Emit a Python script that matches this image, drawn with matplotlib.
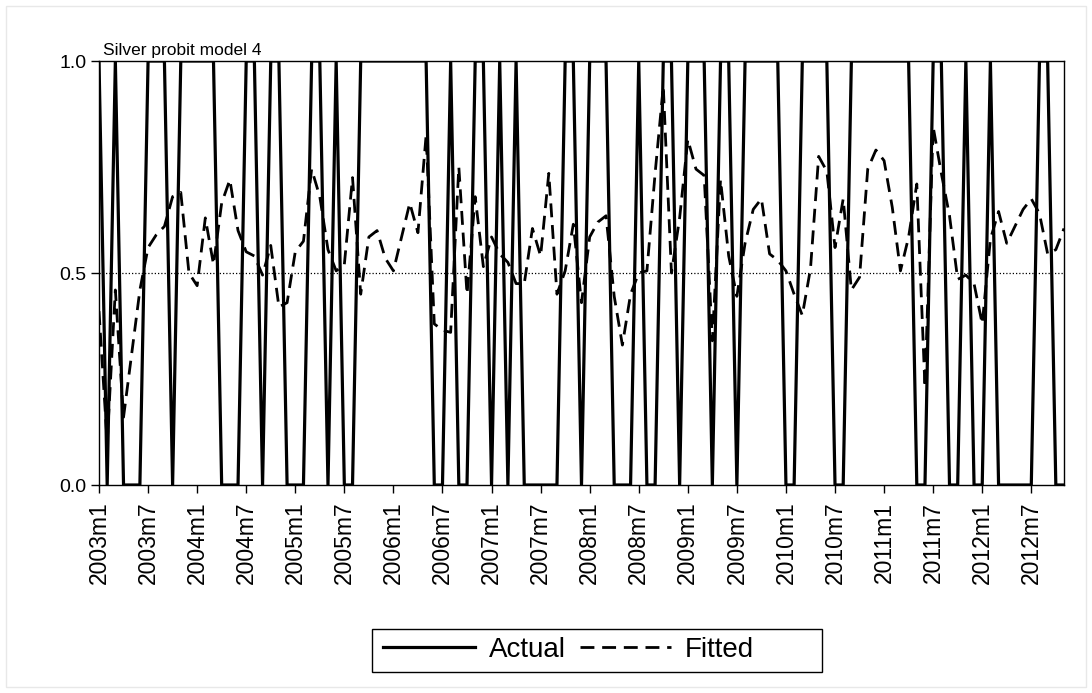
# ===================== Silver probit model 4 - actual vs fitted =====================
# Monthly series 2003m1 - 2012m11, binary actual outcome against probit fitted values
# ====================================================================================

import matplotlib
matplotlib.use("Agg")
import matplotlib.pyplot as plt
from matplotlib.patches import Rectangle

# ===================== Data =====================
START_YEAR = 2003
N_MONTHS = 119  # 2003m1 .. 2012m11

actual = [
    1, 0, 1, 0, 0, 0, 1, 1, 1, 0,
    1, 1, 1, 1, 1, 0, 0, 0, 1, 1,
    0, 1, 1, 0, 0, 0, 1, 1, 0, 1,
    0, 0, 1, 1, 1, 1, 1, 1, 1, 1,
    1, 0, 0, 1, 0, 0, 1, 1, 0, 1,
    0, 1, 0, 0, 0, 0, 0, 1, 1, 0,
    1, 1, 1, 0, 0, 0, 1, 0, 0, 1,
    1, 0, 1, 1, 1, 0, 1, 1, 0, 1,
    1, 1, 1, 1, 0, 0, 1, 1, 1, 1,
    0, 0, 1, 1, 1, 1, 1, 1, 1, 1,
    0, 0, 1, 1, 0, 0, 1, 0, 0, 1,
    0, 0, 0, 0, 0, 1, 1, 0, 0,
]

fitted = [
    0.41, 0.10, 0.46, 0.16, 0.31, 0.46, 0.56, 0.59, 0.61, 0.68,
    0.69, 0.50, 0.47, 0.63, 0.52, 0.665, 0.72, 0.60, 0.55, 0.54,
    0.495, 0.565, 0.42, 0.43, 0.55, 0.575, 0.745, 0.68, 0.555, 0.505,
    0.52, 0.725, 0.45, 0.585, 0.60, 0.535, 0.505, 0.585, 0.665, 0.595,
    0.825, 0.38, 0.365, 0.36, 0.75, 0.45, 0.68, 0.515, 0.585, 0.545,
    0.525, 0.475, 0.475, 0.605, 0.54, 0.735, 0.45, 0.505, 0.615, 0.43,
    0.585, 0.62, 0.635, 0.445, 0.33, 0.45, 0.50, 0.505, 0.735, 0.94,
    0.50, 0.63, 0.815, 0.745, 0.73, 0.34, 0.72, 0.54, 0.445, 0.57,
    0.65, 0.675, 0.545, 0.53, 0.505, 0.45, 0.40, 0.51, 0.775, 0.74,
    0.56, 0.675, 0.46, 0.49, 0.745, 0.79, 0.765, 0.655, 0.505, 0.585,
    0.71, 0.23, 0.845, 0.735, 0.635, 0.485, 0.495, 0.475, 0.38, 0.58,
    0.645, 0.57, 0.61, 0.65, 0.675, 0.64, 0.545, 0.555, 0.605,
]

y_ticks = [0.0, 0.5, 1.0]
y_tick_labels = ["0.0", "0.5", "1.0"]
cutoff = 0.5

months = list(range(N_MONTHS))
x_ticks = months[::6]
x_tick_labels = [f"{START_YEAR + m // 12}m{m % 12 + 1}" for m in x_ticks]

# ===================== Figure =====================
plt.rcParams["font.family"] = ["Liberation Sans", "DejaVu Sans"]

W, H = 1092, 693
fig = plt.figure(figsize=(W / 100, H / 100), dpi=100)
fig.patch.set_facecolor("white")

# faint outer frame
fig.patches.append(Rectangle((6 / W, 6 / H), 1 - 12 / W, 1 - 12 / H,
                             transform=fig.transFigure, fill=False,
                             edgecolor="#e8e8e8", linewidth=1))

ax = fig.add_axes([99 / W, 1 - 485 / H, 965 / W, 424 / H])

ax.plot(months, actual, color="black", linewidth=2.3, label="Actual",
        solid_joinstyle="miter")
ax.plot(months, fitted, color="black", linewidth=2.0,
        linestyle=(0, (5, 2.8)), label="Fitted")
ax.axhline(cutoff, color="black", linewidth=0.9, linestyle=(0, (1, 1.6)))

ax.set_xlim(0, N_MONTHS - 1)
ax.set_ylim(0, 1)

ax.set_xticks(x_ticks)
ax.set_xticklabels(x_tick_labels, rotation=90, fontsize=16.5)
ax.set_yticks(y_ticks)
ax.set_yticklabels(y_tick_labels, fontsize=14)
ax.tick_params(axis="both", direction="out", length=6, width=1, color="black")
ax.tick_params(axis="x", pad=6)
ax.tick_params(axis="y", pad=3)

for side in ["left", "right", "top", "bottom"]:
    ax.spines[side].set_linewidth(1)
    ax.spines[side].set_color("black")

ax.text(0.004, 1.008, "Silver probit model 4", transform=ax.transAxes,
        fontsize=12.5, ha="left", va="bottom")

# legend entries, box drawn separately so it keeps the wide Stata-like frame
fig.legend(loc="center left", bbox_to_anchor=(372 / W, 1 - 650 / H), ncol=2,
           fontsize=20, frameon=False, handlelength=3.3, columnspacing=0.5,
           handletextpad=0.5, borderpad=0.4, borderaxespad=0)
fig.patches.append(Rectangle((372 / W, 1 - 672 / H), 450 / W, 43 / H,
                             transform=fig.transFigure, fill=False,
                             edgecolor="black", linewidth=1))

plt.savefig("out.png", dpi=100)
plt.close()
